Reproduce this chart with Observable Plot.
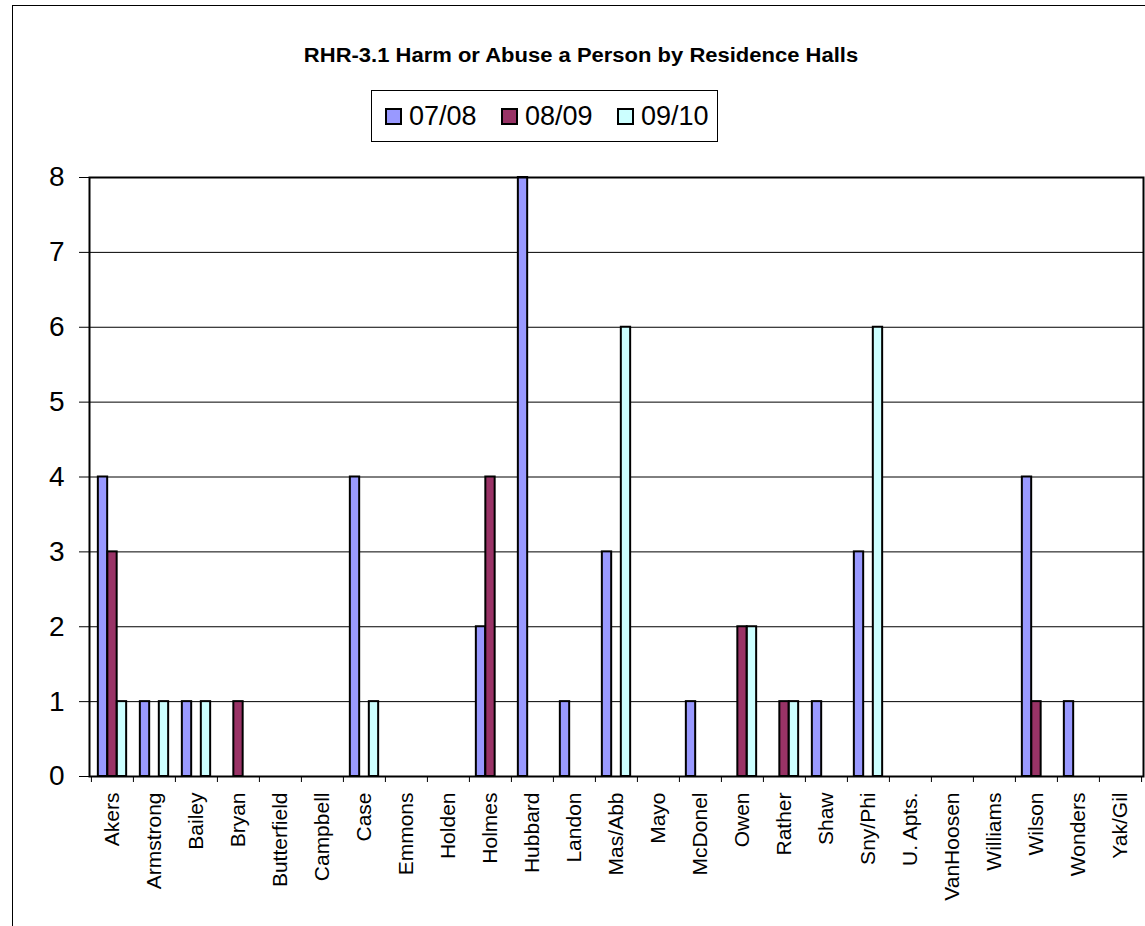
<!DOCTYPE html>
<html>
<head>
<meta charset="utf-8">
<script src="https://cdn.jsdelivr.net/npm/d3@7"></script>
<script src="https://cdn.jsdelivr.net/npm/@observablehq/plot@0.6"></script>
<style>
  html, body { margin: 0; padding: 0; background: #fff; }
  #wrap { position: relative; width: 1145px; height: 926px; overflow: hidden; font-family: Arial, "Liberation Sans", sans-serif; }
  #outer { position: absolute; left: 12px; top: 5px; width: 1200px; height: 1000px; border: 1px solid #000; box-sizing: border-box; }
  #title { position: absolute; left: 580.5px; top: 45px; font-size: 20px; line-height: 20px; font-weight: bold; white-space: nowrap; transform: translateX(-50%) scaleX(1.1); color: #000; }
  #legend { position: absolute; left: 371px; top: 90px; width: 347px; height: 52px; border: 1px solid #000; box-sizing: border-box; background: #fff; }
  .sw { position: absolute; top: 17px; width: 17px; height: 17px; border: 2px solid #000; box-sizing: border-box; }
  .lt { position: absolute; top: 12px; font-size: 27px; line-height: 27px; white-space: nowrap; color: #000; }
  #chart { position: absolute; left: 0; top: 0; }
</style>
</head>
<body>
<div id="wrap">
  <div id="outer"></div>
  <div id="chart"></div>
  <div id="title">RHR-3.1 Harm or Abuse a Person by Residence Halls</div>
  <div id="legend"></div>
</div>
<script>
const halls = ["Akers","Armstrong","Bailey","Bryan","Butterfield","Campbell","Case","Emmons","Holden","Holmes","Hubbard","Landon","Mas/Abb","Mayo","McDonel","Owen","Rather","Shaw","Sny/Phi","U. Apts.","VanHoosen","Williams","Wilson","Wonders","Yak/Gil"];
const years = ["07/08","08/09","09/10"];
const v0708 = [4,1,1,0,0,0,4,0,0,2,8,1,3,0,1,0,0,1,3,0,0,0,4,1,0];
const v0809 = [3,0,0,1,0,0,0,0,0,4,0,0,0,0,0,2,1,0,0,0,0,0,1,0,0];
const v0910 = [1,1,1,0,0,0,1,0,0,0,0,0,6,0,0,2,1,0,6,0,0,0,0,0,0];
const colors = ["#9999FF","#993366","#CCFFFF"];
const yTicks = [0,1,2,3,4,5,6,7,8];

const series = [v0708, v0809, v0910];
const data = halls.flatMap((h, i) => years.map((yr, j) => ({hall: h, year: yr, value: series[j][i]})));

const W = 1145, H = 926, mL = 89, mR = 2, mT = 177, mB = 150;
const step = (W - mL - mR) / halls.length;
const barW = step * 0.225;
const inset = (step - barW) / 2;

const chart = Plot.plot({
  width: W, height: H,
  marginLeft: mL, marginRight: mR, marginTop: mT, marginBottom: mB,
  style: {fontFamily: "Arial, 'Liberation Sans', sans-serif", background: "transparent", color: "#000", overflow: "visible"},
  x: {domain: halls, padding: 0, axis: null, label: null},
  y: {domain: [0, 8], axis: null, label: null},
  color: {domain: years, range: colors},
  marks: [
    Plot.ruleY(yTicks.slice(1, -1), {stroke: "#000", strokeWidth: 1}),
    ...years.map((yr, j) => Plot.barY(data.filter(d => d.year === yr && d.value > 0), {
      x: "hall", y: "value", fill: "year", stroke: "#000", strokeWidth: 2,
      insetLeft: inset, insetRight: inset, dx: (j - 1) * barW
    })),
    Plot.frame({stroke: "#000", strokeWidth: 2}),
    Plot.axisY({ticks: yTicks, tickSize: 10, tickPadding: 15, fontSize: 28, tickFormat: d => d, stroke: "#000", label: null}),
    Plot.axisX({tickSize: 0, tickPadding: 16, tickRotate: -90, fontSize: 21, label: null}),
    Plot.ruleX(halls, {x: d => d, y1: 0, y2: 0, insetBottom: -6, dx: -step / 2, stroke: "#000", strokeWidth: 1}),
    Plot.ruleX(halls.slice(-1), {x: d => d, y1: 0, y2: 0, insetBottom: -6, dx: step / 2, stroke: "#000", strokeWidth: 1})
  ]
});
document.getElementById("chart").appendChild(chart);

const legend = document.getElementById("legend");
years.forEach((yr, j) => {
  const sw = document.createElement("div");
  sw.className = "sw";
  sw.style.left = (13 + j * 116) + "px";
  sw.style.background = colors[j];
  legend.appendChild(sw);
  const t = document.createElement("div");
  t.className = "lt";
  t.style.left = (37 + j * 116) + "px";
  t.textContent = yr;
  legend.appendChild(t);
});
</script>
</body>
</html>
